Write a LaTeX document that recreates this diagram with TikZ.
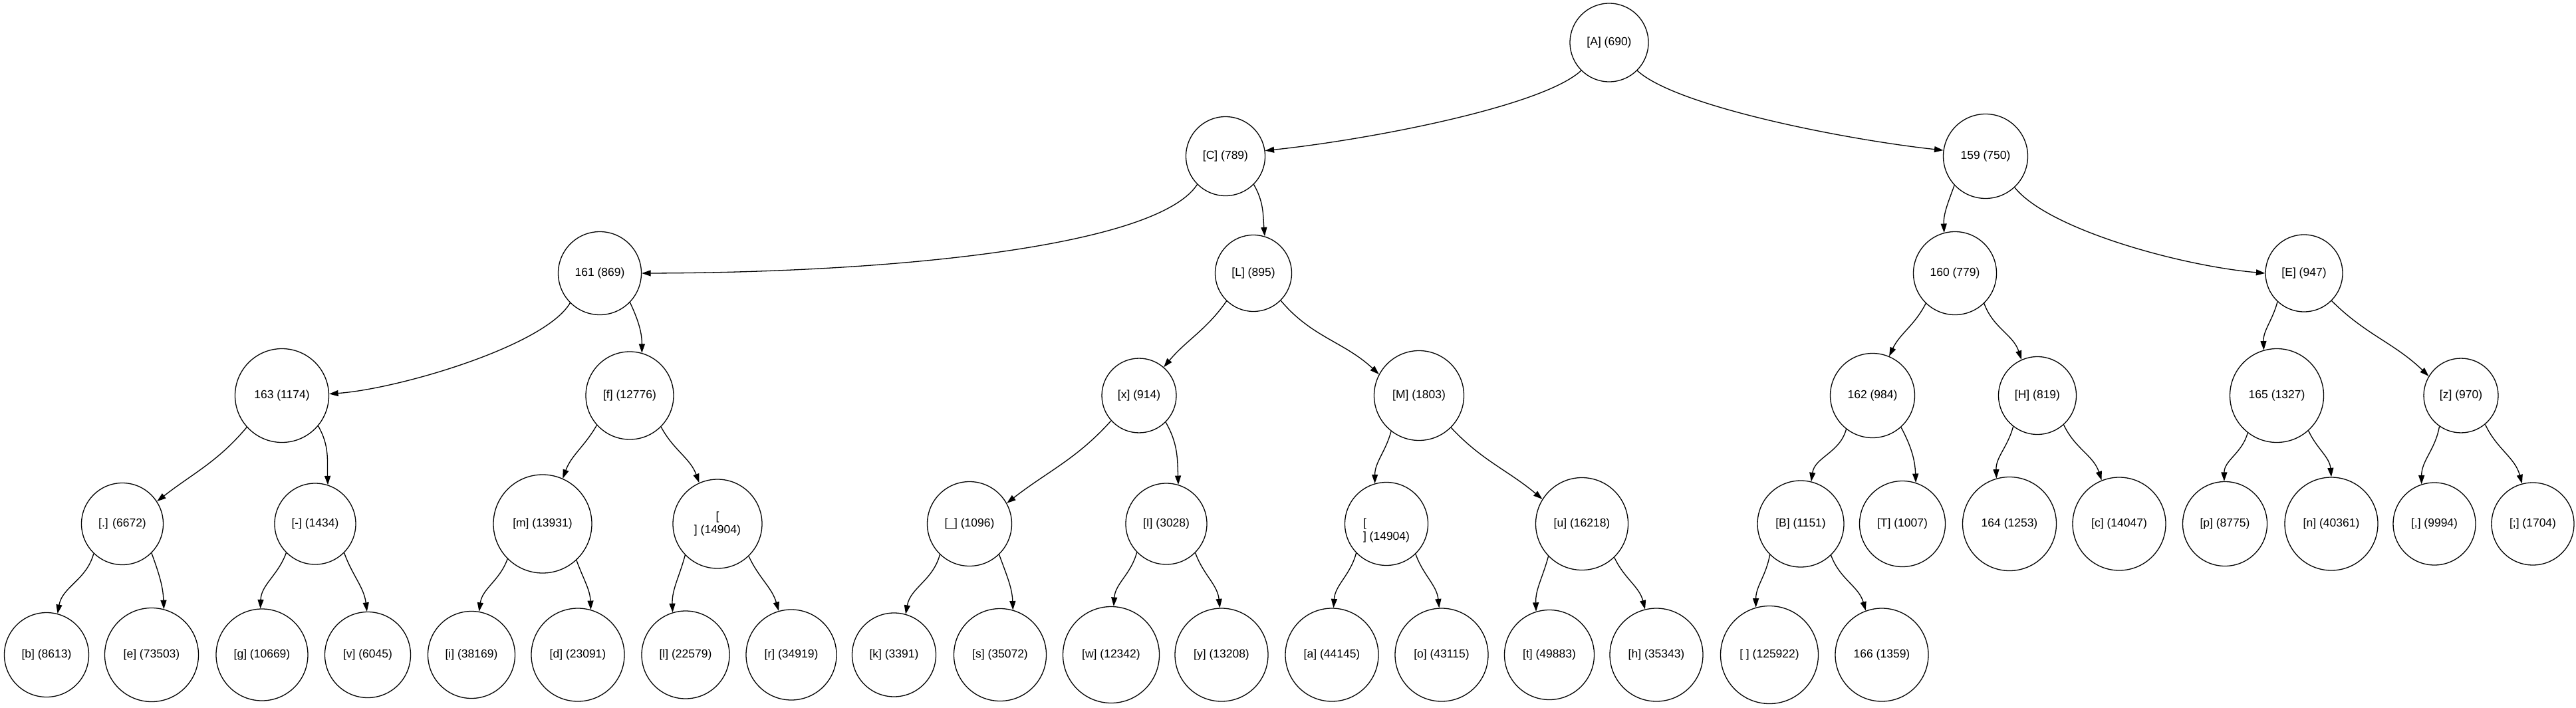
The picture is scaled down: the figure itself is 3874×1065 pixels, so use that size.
\documentclass[tikz,border=0pt]{standalone}
\usepackage{fontspec}
\setmainfont{Liberation Sans}
\usetikzlibrary{arrows.meta}
\begin{document}
\begin{tikzpicture}[x=1pt,y=1pt,
  nd/.style={circle, draw, line width=1.3pt, inner sep=0pt, font=\fontsize{17.5pt}{20.5pt}\selectfont, align=center},
  txt/.style={inner sep=0pt, font=\fontsize{17.5pt}{20.5pt}\selectfont},
  edge/.style={draw, line width=1.3pt, -{Triangle[length=13.5pt,width=9pt]}}]
\useasboundingbox[fill=white] (0,0) rectangle (3874,-1065);
% level 0
\node[nd, minimum size=118] (A) at (2420,-64) {[A] (690)};
% level 1
\node[nd, minimum size=119] (C) at (1843,-235) {[C] (789)};
\node[nd, minimum size=127] (n159) at (2986,-235) {159 (750)};
% level 2
\node[nd, minimum size=125] (n161) at (902,-411) {161 (869)};
\node[nd, minimum size=115] (L) at (1885,-411) {[L] (895)};
\node[nd, minimum size=125] (n160) at (2940,-411) {160 (779)};
\node[nd, minimum size=116] (E) at (3465,-411) {[E] (947)};
% level 3
\node[nd, minimum size=141] (n163) at (424,-595) {163 (1174)};
\node[nd, minimum size=132] (f) at (947,-595) {[f] (12776)};
\node[nd, minimum size=112] (x) at (1713,-595) {[x] (914)};
\node[nd, minimum size=135] (M) at (2134,-595) {[M] (1803)};
\node[nd, minimum size=127] (n162) at (2816,-595) {162 (984)};
\node[nd, minimum size=117] (H) at (3064,-595) {[H] (819)};
\node[nd, minimum size=141] (n165) at (3424,-595) {165 (1327)};
\node[nd, minimum size=112] (z) at (3701,-595) {[z] (970)};
% level 4
\node[nd, minimum size=123] (dot) at (184,-788) {[.] (6672)};
\node[nd, minimum size=122] (dash) at (474,-788) {[-] (1434)};
\node[nd, minimum size=148] (m) at (816,-788) {[m] (13931)};
\node[nd, minimum size=134] (nla) at (1079,-788) {[\\] (14904)};
\node[nd, minimum size=127] (us) at (1458,-788) {[\_] (1096)};
\node[nd, minimum size=122] (I) at (1754,-788) {[I] (3028)};
\node[nd, minimum size=125] (nlb) at (2085,-788) {};
\node[txt, align=left] (nlbt) at (2085,-798) {[\\] (14904)};
\node[nd, minimum size=139] (u) at (2379,-788) {[u] (16218)};
\node[nd, minimum size=130] (B) at (2708,-788) {[B] (1151)};
\node[nd, minimum size=129] (T) at (2861,-788) {[T] (1007)};
\node[nd, minimum size=141] (n164) at (3022,-788) {164 (1253)};
\node[nd, minimum size=140] (c) at (3187,-788) {[c] (14047)};
\node[nd, minimum size=127] (p) at (3346,-788) {[p] (8775)};
\node[nd, minimum size=140] (n) at (3506,-788) {[n] (40361)};
\node[nd, minimum size=124] (comma) at (3661,-788) {[,] (9994)};
\node[nd, minimum size=124] (semi) at (3809,-788) {[;] (1704)};
% level 5
\node[nd, minimum size=127] (b) at (70,-985) {[b] (8613)};
\node[nd, minimum size=141] (e) at (228,-985) {[e] (73503)};
\node[nd, minimum size=138] (g) at (394,-985) {[g] (10669)};
\node[nd, minimum size=129] (v) at (553,-985) {[v] (6045)};
\node[nd, minimum size=131] (i) at (709,-985) {[i] (38169)};
\node[nd, minimum size=140] (d) at (869,-985) {[d] (23091)};
\node[nd, minimum size=132] (l) at (1031,-985) {[l] (22579)};
\node[nd, minimum size=136] (r) at (1190,-985) {[r] (34919)};
\node[nd, minimum size=126] (k) at (1344.5,-985) {[k] (3391)};
\node[nd, minimum size=139] (s) at (1504,-985) {[s] (35072)};
\node[nd, minimum size=145] (w) at (1671,-985) {[w] (12342)};
\node[nd, minimum size=140] (y) at (1837,-985) {[y] (13208)};
\node[nd, minimum size=140] (a) at (2003,-985) {[a] (44145)};
\node[nd, minimum size=140] (o) at (2168,-985) {[o] (43115)};
\node[nd, minimum size=135] (t) at (2330,-985) {[t] (49883)};
\node[nd, minimum size=140] (h) at (2491,-985) {[h] (35343)};
\node[nd, minimum size=147] (sp) at (2661,-985) {[ ] (125922)};
\node[nd, minimum size=140] (n166) at (2830,-985) {166 (1359)};
% edges
\draw[edge] (A.225) .. controls (2320,-160) and (2060,-210) .. (C.8);
\draw[edge] (A.-45) .. controls (2520,-160) and (2775,-210) .. (n159.172);
\draw[edge] (C.225) .. controls (1740,-370) and (1350,-410) .. (n161.0);
\draw[edge] (C.-45) to[out=-60,in=95] (L.73);
\draw[edge] (n159.223) to[out=250,in=92] (n160.105);
\draw[edge] (n159.-47) .. controls (3080,-345) and (3280,-400) .. (E.180);
\draw[edge] (n161.225) .. controls (820,-520) and (600,-585) .. (n163.2);
\draw[edge] (n161.-44) to[out=-65,in=90] (f.74);
\draw[edge] (L.226) to[out=235,in=50] (x.49);
\draw[edge] (L.-45) to[out=-50,in=137] (M.152);
\draw[edge] (n160.226) to[out=243,in=65] (n162.67);
\draw[edge] (n160.-46) to[out=-70,in=108] (H.114);
\draw[edge] (E.227) to[out=255,in=92] (n165.106);
\draw[edge] (E.-45) to[out=-45,in=136] (z.149);
\draw[edge] (n163.222) to[out=230,in=38] (dot.33);
\draw[edge] (n163.-40) to[out=-60,in=92] (dash.72);
\draw[edge] (f.222) to[out=240,in=70] (m.66);
\draw[edge] (f.-45) to[out=-62,in=110] (nla.114);
\draw[edge] (x.222) to[out=228,in=38] (us.29);
\draw[edge] (x.-45) to[out=-60,in=92] (I.73);
\draw[edge] (M.232) to[out=255,in=90] (nlb.106);
\draw[edge] (M.-45) to[out=-47,in=140] (u.148);
\draw[edge] (n162.232) to[out=255,in=82] (B.76);
\draw[edge] (n162.-48) to[out=-62,in=92] (T.72);
\draw[edge] (H.232) to[out=255,in=92] (n164.106);
\draw[edge] (H.-48) to[out=-65,in=108] (c.112);
\draw[edge] (n165.232) to[out=255,in=90] (p.91);
\draw[edge] (n165.-48) to[out=-65,in=95] (n.90);
\draw[edge] (z.235) to[out=260,in=90] (comma.108);
\draw[edge] (z.-50) to[out=-65,in=105] (semi.105);
\draw[edge] (dot.226) to[out=255,in=80] (b.75);
\draw[edge] (dot.-45) to[out=-70,in=92] (e.75);
\draw[edge] (dash.225) to[out=250,in=88] (g.92);
\draw[edge] (dash.-45) to[out=-70,in=97] (v.91);
\draw[edge] (m.225) to[out=250,in=82] (i.80);
\draw[edge] (m.-47) to[out=-70,in=92] (d.74);
\draw[edge] (nla.224) to[out=255,in=92] (l.107);
\draw[edge] (nla.-46) to[out=-65,in=106] (r.106);
\draw[edge] (us.226) to[out=255,in=80] (k.74);
\draw[edge] (us.-46) to[out=-70,in=92] (s.74);
\draw[edge] (I.224) to[out=255,in=86] (w.87);
\draw[edge] (I.-45) to[out=-70,in=96] (y.92);
\draw[edge] (nlb.224) to[out=255,in=86] (a.88);
\draw[edge] (nlb.-46) to[out=-70,in=96] (o.93);
\draw[edge] (u.224) to[out=255,in=92] (t.107);
\draw[edge] (u.-46) to[out=-65,in=104] (h.104);
\draw[edge] (B.225) to[out=260,in=90] (sp.106);
\draw[edge] (B.-46) to[out=-70,in=106] (n166.110);
\end{tikzpicture}
\end{document}
